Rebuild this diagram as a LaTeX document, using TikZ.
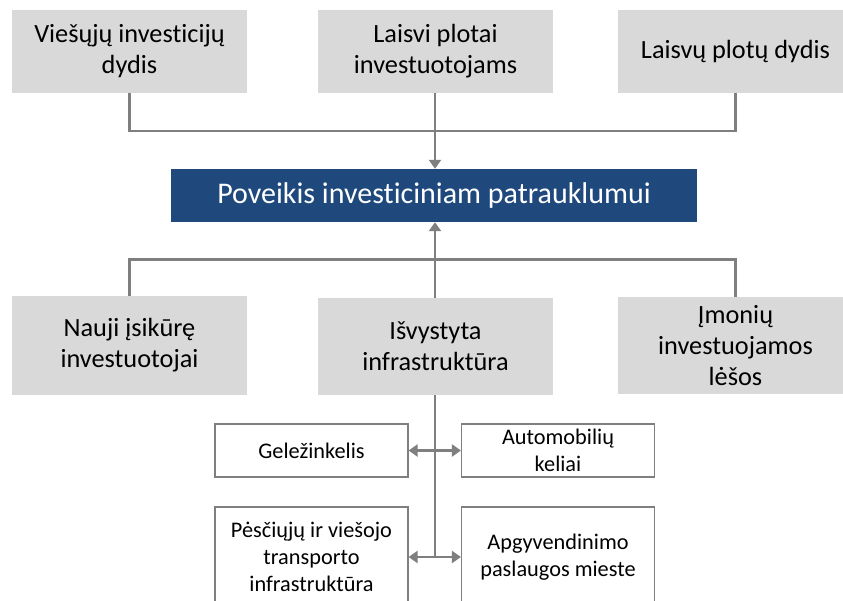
\documentclass[tikz,border=0pt]{standalone}
\usepackage{fontspec}
\setmainfont{Carlito}[Ligatures=NoCommon]
\usetikzlibrary{arrows.meta}
\definecolor{boxgray}{HTML}{D9D9D9}
\definecolor{linegray}{HTML}{7F7F7F}
\definecolor{darkblue}{HTML}{1F497D}
\begin{document}
\begin{tikzpicture}[x=1pt,y=-1pt,
  graybox/.style={fill=boxgray, draw=none, minimum width=235pt, inner sep=0pt, align=center,
     font=\fontsize{26.3}{31}\selectfont, text=black},
  smallbox/.style={fill=white, draw=linegray, line width=1.2pt, minimum width=193pt, inner sep=0pt, align=center,
     font=\fontsize{22.3}{27}\selectfont, text=black},
  bluebox/.style={fill=darkblue, draw=none, minimum width=526pt, minimum height=53pt, inner sep=0pt,
     font=\fontsize{30}{34}\selectfont, text=white},
  conn/.style={draw=linegray, line width=2.5pt},
  tip/.style={-{Triangle[length=9pt,width=12pt]}},
  dtip/.style={{Triangle[length=9pt,width=12pt]}-{Triangle[length=9pt,width=12pt]}}
]
\clip (0,0) rectangle (843,600);
\fill[white] (0,0) rectangle (843,600);

% top row
\node[graybox, minimum height=83pt] (t1) at (129.5,51.5) {Viešųjų investicijų\\dydis};
\node[graybox, minimum height=83pt] (t2) at (435.5,51.5) {Laisvi plotai\\investuotojams};
\node[graybox, minimum height=83pt] (t3) at (735.5,51.5) {Laisvų plotų dydis};

% central
\node[bluebox] (c) at (434,195.5) {Poveikis investiciniam patrauklumui};

% middle row
\node[graybox, minimum height=99pt] (b1) at (129.5,345.5) {Nauji įsikūrę\\investuotojai};
\node[graybox, minimum height=97pt] (b2) at (435.5,346.5) {Išvystyta\\infrastruktūra};
\node[graybox, minimum height=97pt] (b3) at (735.5,345.5) {Įmonių\\investuojamos\\lėšos};

% small boxes
\node[smallbox, minimum height=53pt] (s1) at (311.5,450.5) {Geležinkelis};
\node[smallbox, minimum height=53pt] (s2) at (558,450.5) {Automobilių\\keliai};
\node[smallbox, minimum height=100pt] (s3) at (311.5,557) {Pėsčiųjų ir viešojo\\transporto\\infrastruktūra};
\node[smallbox, minimum height=100pt] (s4) at (558,557) {Apgyvendinimo\\paslaugos mieste};

% top connectors
\coordinate (tj) at (435,131);
\draw[conn] (t1.south) |- (tj) -| (t3.south);
\draw[conn, tip] (t2.south -| tj) -- (tj |- c.north);

% bottom connectors
\coordinate (bj) at (435,259.5);
\draw[conn] (b1.north) |- (bj) -| (b3.north);
\draw[conn, tip] (b2.north -| bj) -- (bj |- c.south);

% infrastructure branch
\coordinate (ie) at (435,556);
\draw[conn] (b2.south -| ie) -- (ie);
\draw[conn, dtip] (s1.east) -- (s2.west);
\draw[conn, dtip] (s3.east) -- (s4.west);
\end{tikzpicture}
\end{document}
